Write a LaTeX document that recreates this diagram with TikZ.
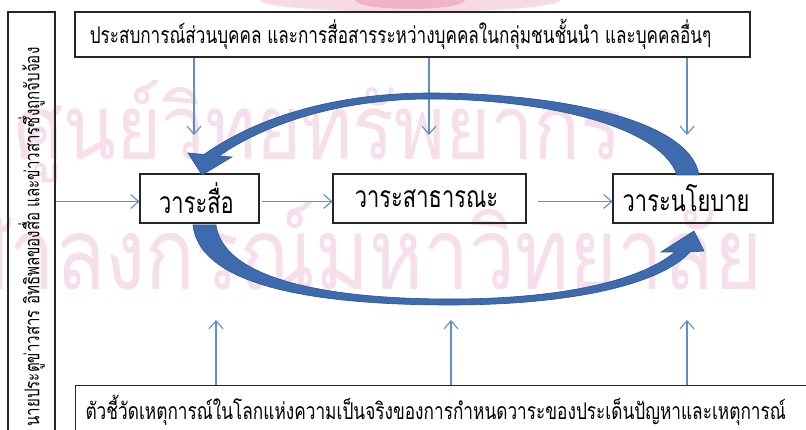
\documentclass[tikz,border=0pt]{standalone}
\usepackage{fontspec}
\newfontfamily\thai[Script=Thai]{Loma}
\usetikzlibrary{arrows.meta}
\definecolor{thinblue}{HTML}{5F8FCB}
\definecolor{bigfill}{HTML}{3D6BAE}
\definecolor{bigedge}{HTML}{2C5493}
\definecolor{wm}{HTML}{F6DEEA}
\definecolor{logo}{HTML}{EBA3B9}
\newcommand{\narrow}[1]{\scalebox{0.74}[1]{#1}}
\begin{document}
\begin{tikzpicture}[x=1pt,y=-1pt,
  box/.style={draw=black!85,line width=1.1pt,inner sep=0pt},
  midbox/.style={box,minimum height=49pt,font=\thai\fontsize{30}{30}\selectfont},
  thinarrow/.style={draw=thinblue,line width=1.1pt,-{Straight Barb[length=8pt,width=14pt,line width=1.1pt]}},
  big/.style={fill=bigfill,draw=bigedge,line width=0.6pt},
  wmark/.style={text=wm,inner sep=0pt}]
\useasboundingbox (0,0) rectangle (806,430);
\clip (0,0) rectangle (806,430);
\fill[white] (0,0) rectangle (806,430);
% watermark
\fill[logo!40] (410,0) ellipse (150 and 12);
\fill[logo!80] (410,0) ellipse (55 and 9);
\node[wmark,anchor=base west,font=\thai\fontsize{90}{90}\selectfont] (wm1) at (14,160) {\scalebox{0.86}[1]{ศูนย์วิทยทรัพยากร}};
\node[wmark,anchor=base west,font=\thai\fontsize{100}{100}\selectfont] (wm2) at (-95,290) {\scalebox{0.82}[1]{จุฬาลงกรณ์มหาวิทยาลัย}};
% boxes
\node[box,minimum width=675pt,minimum height=45pt,font=\thai\fontsize{23}{23}\selectfont] (top) at (412.5,34.5) {\scalebox{0.745}[1]{ประสบการณ์ส่วนบุคคล และการสื่อสารระหว่างบุคคลในกลุ่มชนชั้นนำ และบุคคลอื่นๆ}\hspace*{24pt}};
\node[box,minimum width=428pt,minimum height=47pt,rotate=90,font=\thai\fontsize{20.4}{20.4}\selectfont] (left) at (31.5,226) {\hspace*{-11pt}\narrow{นายประตูข่าวสาร อิทธิพลของสื่อ และข่าวสารซึ่งถูกจับจ้อง}\hspace*{11pt}};
\node[midbox,minimum width=119pt] (m1) at (199.5,198.5) {\scalebox{0.73}[1]{วาระสื่อ}\hspace*{6pt}};
\node[midbox,minimum width=193pt] (m2) at (429.5,198.5) {\scalebox{0.73}[1]{วาระสาธารณะ}\hspace*{6pt}};
\node[midbox,minimum width=160pt] (m3) at (693,198.5) {\scalebox{0.73}[1]{วาระนโยบาย}\hspace*{14pt}};
\node[box,anchor=north west,minimum height=50pt,text width=720pt,inner xsep=10pt,align=left,font=\thai\fontsize{23}{23}\selectfont] (bot) at (75,385) {\scalebox{0.75}[1]{ตัวชี้วัดเหตุการณ์ในโลกแห่งความเป็นจริงของการกำหนดวาระของประเด็นปัญหาและเหตุการณ์}};
% thin arrows
\draw[thinarrow] (left.south |- m1.west) ++(0,3) -- ([yshift=-3pt]m1.west) ;
\draw[thinarrow] ([xshift=2pt,yshift=-3pt]m1.east) -- ([yshift=-3pt]m2.west);
\draw[thinarrow] ([xshift=11pt,yshift=-3pt]m2.east) -- ([yshift=-3pt]m3.west);
\coordinate (d1) at (194,135);
\coordinate (d2) at (429,135);
\coordinate (d3) at (687,135);
\coordinate (u1) at (216,320);
\coordinate (u2) at (451,320);
\coordinate (u3) at (687,320);
\foreach \p in {d1,d2,d3} \draw[thinarrow] (top.south -| \p) -- (\p);
\foreach \p in {u1,u2,u3} \draw[thinarrow] (bot.north -| \p) -- (\p);
% big curved arrows
\path[big] (699,175) .. controls (690,120) and (560,93) .. (430,93)
  .. controls (340,93) and (260,115) .. (204,154.5)
  -- (188,153) -- (202,175) -- (232,157) -- (219,156)
  .. controls (265,124) and (340,99) .. (430,99)
  .. controls (540,99) and (660,125) .. (677,175) -- cycle;
\path[big] (193,225) .. controls (200,290) and (330,305) .. (450,305)
  .. controls (570,305) and (660,285) .. (690,252)
  -- (704,251) -- (694,231) -- (661,252) -- (675,252)
  .. controls (640,281) and (560,299) .. (450,299)
  .. controls (330,299) and (224,280) .. (216,225) -- cycle;
\end{tikzpicture}
\end{document}
